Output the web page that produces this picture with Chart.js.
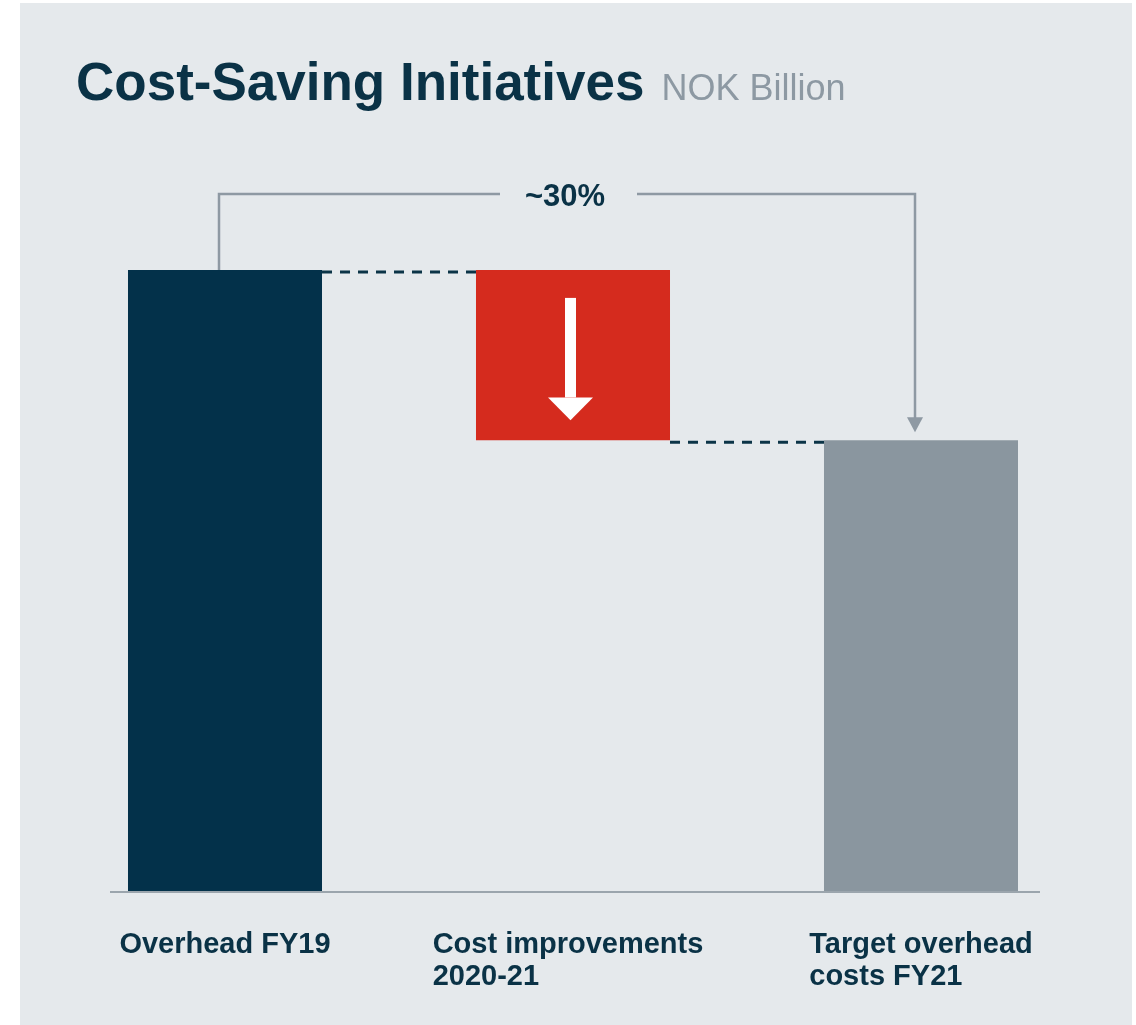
<!DOCTYPE html>
<html>
<head>
<meta charset="utf-8">
<script src="https://cdn.jsdelivr.net/npm/chart.js@4"></script>
<style>
  html, body { margin: 0; padding: 0; background: #ffffff; }
  #panel { position: absolute; left: 20px; top: 3px; width: 1112px; height: 1022px; background: #e5e9ec; }
  #wrap { position: absolute; left: 0; top: 0; width: 1136px; height: 1025px; }
</style>
</head>
<body>
<div id="panel"></div>
<div id="wrap"><canvas id="chart-cost-waterfall"></canvas></div>
<script>
// data (indexed, no axis values shown)
const categories = [["Overhead FY19"], ["Cost improvements", "2020-21"], ["Target overhead", "costs FY21"]];
const barStart = [0, 7.26, 0];
const barEnd = [10, 10, 7.26];
const changeLabel = "~30%";
const titleText = "Cost-Saving Initiatives";
const unitText = "NOK Billion";

const barColors = ["#03314a", "#d52b1e", "#8a969f"];
const navy = "#0a3246";
const lineGray = "#8e99a3";

const waterfallExtras = {
  id: "waterfallExtras",
  afterDatasetsDraw(chart) {
    const ctx = chart.ctx;
    const x = chart.scales.x;
    const y = chart.scales.y;
    const bars = chart.getDatasetMeta(0).data;
    ctx.save();

    // title
    ctx.textBaseline = "alphabetic";
    ctx.textAlign = "left";
    ctx.fillStyle = navy;
    ctx.font = "bold 53px 'Liberation Sans', Arial, sans-serif";
    ctx.fillText(titleText, 76, 100);
    const tw = ctx.measureText(titleText).width;
    ctx.fillStyle = "#8d99a3";
    ctx.font = "36px 'Liberation Sans', Arial, sans-serif";
    ctx.fillText(unitText, 76 + tw + 17, 100);

    // baseline
    ctx.strokeStyle = "#9ba5ad";
    ctx.lineWidth = 2;
    ctx.beginPath();
    ctx.moveTo(110, y.getPixelForValue(0) + 1);
    ctx.lineTo(1040, y.getPixelForValue(0) + 1);
    ctx.stroke();

    // dashed connectors between bars
    ctx.strokeStyle = "#0b3447";
    ctx.lineWidth = 3;
    ctx.setLineDash([10, 8]);
    for (let i = 0; i < bars.length - 1; i++) {
      const a = bars[i], b = bars[i + 1];
      const level = y.getPixelForValue(i === 0 ? barEnd[0] : barStart[1]) + 2;
      ctx.beginPath();
      ctx.moveTo(a.x + a.width / 2, level);
      ctx.lineTo(b.x - b.width / 2, level);
      ctx.stroke();
    }
    ctx.setLineDash([]);

    // white arrow inside the red bar
    const r = bars[1];
    const top = r.y, h = r.base - r.y;
    ctx.fillStyle = "#ffffff";
    ctx.fillRect(r.x - 8, top + h * 0.164, 11, h * 0.585);
    ctx.beginPath();
    ctx.moveTo(r.x - 25, top + h * 0.749);
    ctx.lineTo(r.x + 20, top + h * 0.749);
    ctx.lineTo(r.x - 2.5, top + h * 0.883);
    ctx.closePath();
    ctx.fill();

    // bracket with ~30%
    const lx = bars[0].x - 6, rx = bars[2].x - 6;
    const by = y.getPixelForValue(barEnd[0]) - 76;
    const mid = (lx + rx) / 2;
    ctx.strokeStyle = lineGray;
    ctx.lineWidth = 2.5;
    ctx.beginPath();
    ctx.moveTo(lx, y.getPixelForValue(barEnd[0]));
    ctx.lineTo(lx, by);
    ctx.lineTo(mid - 67, by);
    ctx.moveTo(mid + 70, by);
    ctx.lineTo(rx, by);
    ctx.lineTo(rx, y.getPixelForValue(barEnd[2]) - 22);
    ctx.stroke();
    ctx.fillStyle = lineGray;
    ctx.beginPath();
    ctx.moveTo(rx - 8, y.getPixelForValue(barEnd[2]) - 23);
    ctx.lineTo(rx + 8, y.getPixelForValue(barEnd[2]) - 23);
    ctx.lineTo(rx, y.getPixelForValue(barEnd[2]) - 8);
    ctx.closePath();
    ctx.fill();
    ctx.fillStyle = navy;
    ctx.font = "bold 31px 'Liberation Sans', Arial, sans-serif";
    ctx.textAlign = "center";
    ctx.textBaseline = "middle";
    ctx.fillText(changeLabel, mid - 2, by + 3);

    // category labels, lines left aligned inside a centred block
    ctx.font = "bold 29px 'Liberation Sans', Arial, sans-serif";
    ctx.textAlign = "left";
    ctx.textBaseline = "alphabetic";
    categories.forEach((lines, i) => {
      const cx = x.getPixelForValue(i);
      const w = Math.max(...lines.map(l => ctx.measureText(l).width));
      lines.forEach((l, j) => ctx.fillText(l, cx - w / 2 - (i === 1 ? 5 : 0), 953 + j * 32));
    });
    ctx.restore();
  }
};

const ctx_chart = document.getElementById("chart-cost-waterfall");
new Chart(ctx_chart, {
  type: "bar",
  data: {
    labels: categories,
    datasets: [
      {
        label: unitText,
        data: barStart.map((s, i) => [s, barEnd[i]]),
        backgroundColor: barColors,
        borderWidth: 0,
        categoryPercentage: 0.5575,
        barPercentage: 1
      }
    ]
  },
  options: {
    responsive: true,
    maintainAspectRatio: false,
    animation: false,
    layout: { padding: { left: 51, right: 41, top: 270, bottom: 134 } },
    plugins: { legend: { display: false }, tooltip: { enabled: false }, title: { display: false } },
    scales: {
      x: { display: false },
      y: { display: false, min: 0, max: 10 }
    }
  },
  plugins: [waterfallExtras]
});
</script>
</body>
</html>
